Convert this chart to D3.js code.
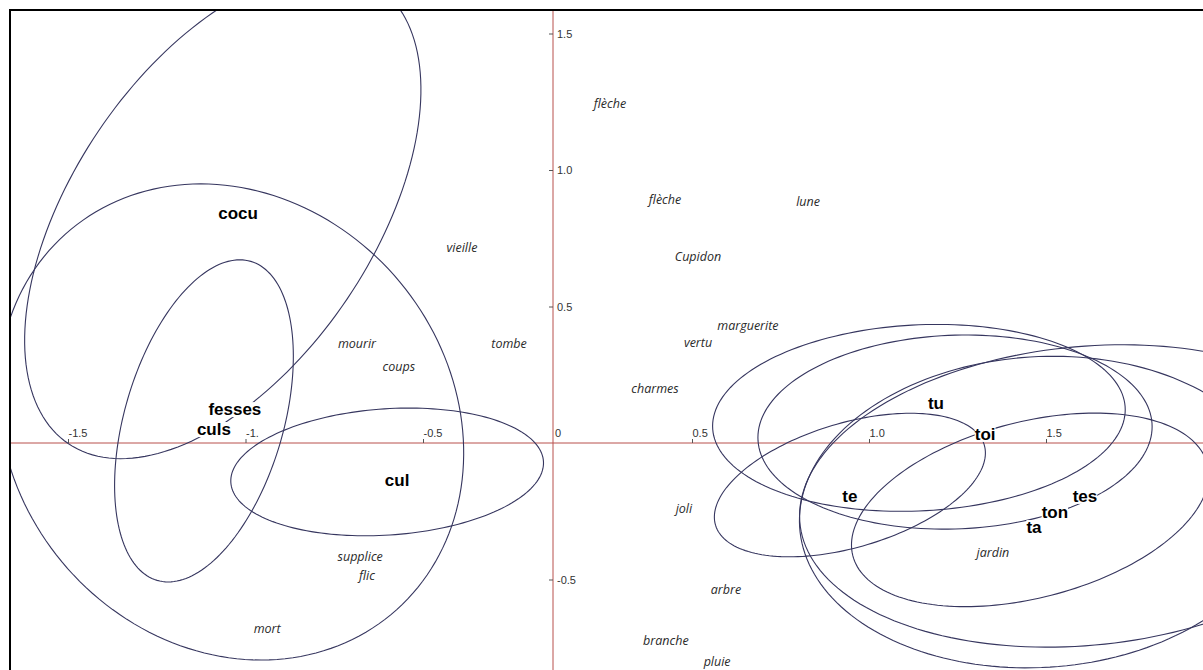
<!DOCTYPE html>
<html>
<head>
<meta charset="utf-8">
<script src="https://cdnjs.cloudflare.com/ajax/libs/d3/7.8.5/d3.min.js"></script>
<style>
  body { margin: 0; background: #fff; }
  svg { display: block; }
  .tick text { font-family: "Liberation Sans", Arial, sans-serif; font-size: 11px; fill: #333; }
  .word-bold { font-family: "Liberation Sans", Arial, sans-serif; font-weight: bold; font-size: 17px; fill: #000; }
  .word-it { font-family: "Open Sans", sans-serif; font-style: italic; font-size: 12.5px; fill: #2a2a2a; }
</style>
</head>
<body>
<div id="chart"></div>
<script>
// tick values and their printed labels
const xTickValues = [-1.5, -1, -0.5, 0.5, 1, 1.5];
const xTickLabels = ['-1.5', '-1.', '-0.5', '0.5', '1.0', '1.5'];
const yTickValues = [-0.5, 0.5, 1, 1.5];
const yTickLabels = ['-0.5', '0.5', '1.0', '1.5'];

// bold words (pronouns / body words)
const boldWords = ['cocu', 'fesses', 'culs', 'cul', 'tu', 'toi', 'te', 'tes', 'ton', 'ta'];
const boldX = [-1.021, -1.030, -1.089, -0.573, 1.189, 1.328, 0.946, 1.610, 1.525, 1.466];
const boldY = [0.842, 0.124, 0.051, -0.136, 0.147, 0.033, -0.194, -0.194, -0.253, -0.308];

// italic words
const italicWords = ['vieille', 'mourir', 'tombe', 'coups', 'supplice', 'flic', 'mort',
  'flèche', 'flèche', 'lune', 'Cupidon', 'marguerite', 'vertu', 'charmes',
  'joli', 'arbre', 'branche', 'pluie', 'jardin'];
const italicX = [-0.350, -0.686, -0.169, -0.568, -0.677, -0.658, -0.939,
  0.205, 0.403, 0.828, 0.517, 0.658, 0.517, 0.367,
  0.471, 0.596, 0.406, 0.571, 1.350];
const italicY = [0.714, 0.363, 0.363, 0.278, -0.418, -0.487, -0.681,
  1.242, 0.890, 0.883, 0.681, 0.429, 0.366, 0.201,
  -0.242, -0.538, -0.725, -0.799, -0.403];

// confidence ellipses: centre + two conjugate semi-diameters (data units)
const ellipseNames = ['cocu', 'fesses', 'culs', 'cul', 'te', 'tu', 'toi', 'ta', 'ton', 'tes'];
const ellipseCx = [-1.064, -1.041, -1.117, -0.601, 0.946, 1.141, 1.243, 1.455, 1.483, 1.610];
const ellipseCy = [0.835, 0.077, 0.081, -0.106, -0.154, 0.092, 0.040, -0.245, -0.253, -0.194];
const ellipseAx = [0.435, 0.651, 0.231, 0.441, 0.379, 0.582, 0.556, 0.503, 0.678, 0.805];
const ellipseAy = [0.838, 0.000, 0.000, 0.037, 0.147, 0.030, 0.020, 0.110, 0.055, 0.073];
const ellipseBx = [-0.351, -0.085, 0.101, -0.008, -0.050, 0.000, 0.000, 0.028, -0.028, 0.000];
const ellipseBy = [0.307, 0.872, 0.590, 0.231, 0.218, 0.341, 0.355, 0.337, 0.568, 0.549];

const W = 1203, H = 670;
const frame = { left: 10, top: 10 };

const svg = d3.select('#chart').append('svg')
  .attr('width', W)
  .attr('height', H);

// the printed axis is not evenly spaced, so the x scale is piecewise
const x_scale = d3.scaleLinear()
  .domain([-1.5, -0.5, 0, 0.5, 1.5])
  .range([68, 423, 553, 692, 1046]);

const y_scale = d3.scaleLinear()
  .domain([0, 1.5])
  .range([443, 33.5]);

// lengths (ellipse semi-diameters) use the outer, regular spacing
const x_len = d3.scaleLinear().domain([0, 1]).range([0, 354.5]);
const y_len = d3.scaleLinear().domain([0, 1]).range([0, y_scale(0) - y_scale(1)]);

svg.append('clipPath').attr('id', 'plot-clip')
  .append('rect')
  .attr('x', frame.left + 1).attr('y', frame.top + 1)
  .attr('width', W).attr('height', H);

const plot = svg.append('g').attr('clip-path', 'url(#plot-clip)');

// axes lines
plot.append('line')
  .attr('x1', 0).attr('x2', W)
  .attr('y1', y_scale(0)).attr('y2', y_scale(0))
  .attr('stroke', '#b8504c').attr('stroke-width', 1);
plot.append('line')
  .attr('x1', x_scale(0)).attr('x2', x_scale(0))
  .attr('y1', 0).attr('y2', H)
  .attr('stroke', '#b8504c').attr('stroke-width', 1);

const xAxis = plot.append('g')
  .attr('transform', 'translate(0,' + y_scale(0) + ')')
  .call(d3.axisTop(x_scale)
    .tickValues(xTickValues)
    .tickFormat((d, i) => xTickLabels[i])
    .tickSizeOuter(0)
    .tickSize(4));
xAxis.select('.domain').remove();
xAxis.selectAll('.tick line').attr('stroke', '#555');
xAxis.selectAll('.tick text')
  .attr('text-anchor', 'start')
  .attr('x', 0)
  .attr('y', -6)
  .attr('dy', 0);

const yAxis = plot.append('g')
  .attr('transform', 'translate(' + x_scale(0) + ',0)')
  .call(d3.axisLeft(y_scale)
    .tickValues(yTickValues)
    .tickFormat((d, i) => yTickLabels[i])
    .tickSizeOuter(0)
    .tickSize(4));
yAxis.select('.domain').remove();
yAxis.selectAll('.tick line').attr('stroke', '#555');
yAxis.selectAll('.tick text')
  .attr('text-anchor', 'start')
  .attr('x', 4);

// origin label
plot.append('g').attr('class', 'tick').append('text')
  .attr('x', x_scale(0) + 2)
  .attr('y', y_scale(0) - 6)
  .text('0');

// ellipses
const ellipsePath = (i) => {
  const cx = x_scale(ellipseCx[i]);
  const cy = y_scale(ellipseCy[i]);
  const pts = d3.range(0, 2 * Math.PI, Math.PI / 90).map((t) => [
    cx + x_len(ellipseAx[i] * Math.cos(t) + ellipseBx[i] * Math.sin(t)),
    cy - y_len(ellipseAy[i] * Math.cos(t) + ellipseBy[i] * Math.sin(t))
  ]);
  return d3.line().curve(d3.curveLinearClosed)(pts);
};

plot.append('g').attr('class', 'ellipses')
  .selectAll('path')
  .data(ellipseNames)
  .enter()
  .append('path')
  .attr('d', (d, i) => ellipsePath(i))
  .attr('fill', 'none')
  .attr('stroke', '#36365f')
  .attr('stroke-width', 1.1);

// words, each on a white box that hides lines behind it
const addWords = (words, xs, ys, cls) => {
  const g = plot.append('g');
  const items = g.selectAll('g')
    .data(words)
    .enter()
    .append('g');
  const texts = items.append('text')
    .attr('class', cls)
    .attr('x', (d, i) => x_scale(xs[i]))
    .attr('y', (d, i) => y_scale(ys[i]))
    .attr('dy', '0.35em')
    .attr('text-anchor', 'middle')
    .text((d) => d);
  texts.each(function () {
    const b = this.getBBox();
    d3.select(this.parentNode).insert('rect', 'text')
      .attr('x', b.x)
      .attr('y', b.y + 2)
      .attr('width', b.width)
      .attr('height', b.height - 4)
      .attr('fill', '#fff');
  });
};

addWords(boldWords, boldX, boldY, 'word-bold');
addWords(italicWords, italicX, italicY, 'word-it');

// frame
svg.append('rect')
  .attr('x', frame.left).attr('y', frame.top)
  .attr('width', W + 20).attr('height', H + 20)
  .attr('fill', 'none')
  .attr('stroke', '#000')
  .attr('stroke-width', 2);
</script>
</body>
</html>
